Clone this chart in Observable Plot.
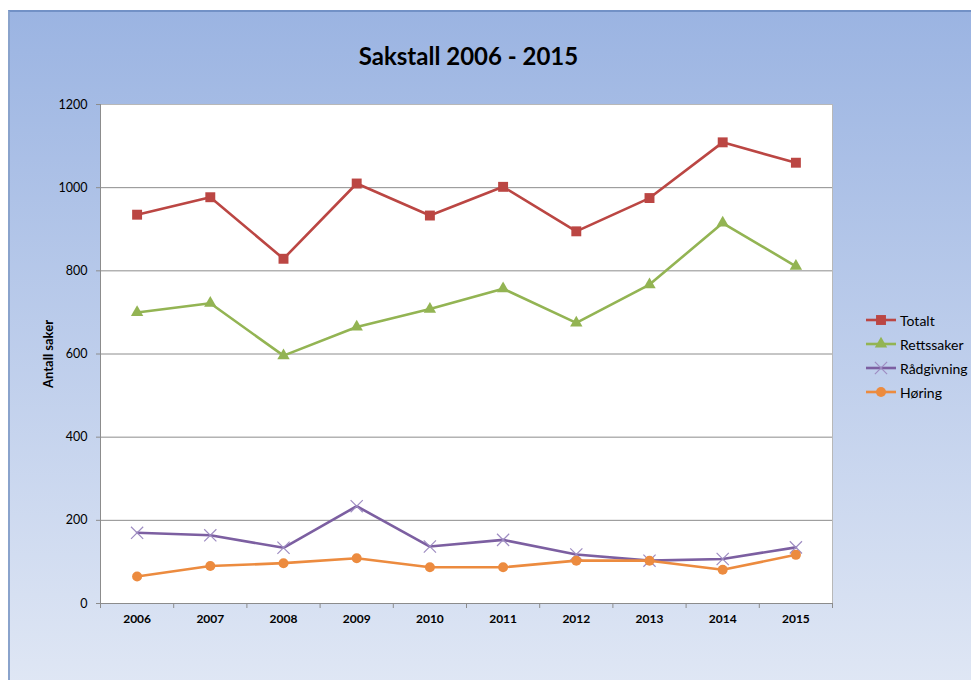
<!DOCTYPE html>
<html><head><meta charset="utf-8">
<script src="https://cdn.jsdelivr.net/npm/d3@7"></script>
<script src="https://cdn.jsdelivr.net/npm/@observablehq/plot@0.6"></script>
<style>
body{margin:0;background:#fff;}
#page{position:relative;width:971px;height:680px;overflow:hidden;background:#fff;font-family:Lato,"Open Sans",sans-serif;}
#frame{position:absolute;left:8px;top:10px;width:980px;height:690px;background:linear-gradient(#9bb4e2,#e1e8f5);border-top:2px solid #7291c6;border-left:2px solid #8aa3cc;}
#title{position:absolute;left:0;width:937px;top:41px;text-align:center;font-size:24px;font-weight:bold;color:#000;}
#chart{position:absolute;left:0;top:0;}
#legend{position:absolute;left:864px;top:308px;font-size:14px;color:#000;}
.item{height:24px;display:flex;align-items:center;}
.item svg{display:block;margin-right:2px;}
</style></head>
<body><div id="page"><div id="frame"></div><div id="title">Sakstall 2006 - 2015</div><div id="chart"></div><div id="legend"></div></div>
<script>
const years=[2006,2007,2008,2009,2010,2011,2012,2013,2014,2015];
const totalt=[935,977,829,1010,933,1002,895,975,1109,1060];
const rettssaker=[700,722,596,665,708,757,675,767,915,811];
const radgivning=[170,164,134,234,137,153,118,103,107,135];
const horing=[65,90,97,109,87,87,103,103,81,117];
const seriesNames=["Totalt","Rettssaker","Rådgivning","Høring"];
const seriesColors=["#bb4643","#93b453","#7c5fa1","#ec8b3f"];
const seriesSymbols=["square","triangle","times","circle"];
const yTicks=[0,200,400,600,800,1000,1200];
const yGrid=[200,400,600,800,1000];

const seriesValues=[totalt,rettssaker,radgivning,horing];
const rows=[];
seriesNames.forEach((s,i)=>years.forEach((yr,j)=>rows.push({serie:s,year:yr,value:seriesValues[i][j]})));
const boundaries=years.map(y=>y-0.5).concat([years[years.length-1]+0.5]);
const markR={square:5.6,triangle:4.6,times:5.6,circle:5};

const marks=[
  Plot.frame({fill:"#ffffff",stroke:"none"}),
  Plot.ruleY(yGrid,{stroke:"#8c8c8c",strokeWidth:1}),
  Plot.frame({stroke:"#b8b8b8"}),
  Plot.ruleX([boundaries[0]],{stroke:"#8c8c8c"}),
  Plot.ruleY([0],{stroke:"#8c8c8c"}),
  Plot.axisY(yTicks,{anchor:"left",tickSize:4,tickPadding:9,stroke:"#8c8c8c",fontSize:12.5,tickFormat:d=>String(d),label:"Antall saker",labelAnchor:"center",labelArrow:"none",labelOffset:57}),
  Plot.axisX(boundaries,{anchor:"bottom",tickSize:5,tickFormat:()=>"",stroke:"#8c8c8c",label:null}),
  Plot.axisX(years,{anchor:"bottom",tickSize:0,tickPadding:11,tickFormat:d=>String(d),fontSize:12,fontWeight:"bold",label:null})
];
seriesNames.forEach((s,i)=>{
  const d=rows.filter(r=>r.serie===s);
  marks.push(Plot.line(d,{x:"year",y:"value",stroke:seriesColors[i],strokeWidth:2.6}));
  const sym=seriesSymbols[i];
  if(sym==="times"){
    marks.push(Plot.dot(d,{x:"year",y:"value",symbol:"times",r:markR[sym],stroke:"#9e8cc2",strokeWidth:1.2}));
  }else{
    marks.push(Plot.dot(d,{x:"year",y:"value",symbol:sym,r:markR[sym],fill:seriesColors[i],stroke:"none"}));
  }
});

const chart=Plot.plot({
  width:860,height:640,marginLeft:100,marginRight:28,marginTop:104,marginBottom:37,
  style:{background:"transparent",fontFamily:"Lato, 'Open Sans', sans-serif",color:"#000",overflow:"visible"},
  x:{type:"linear",domain:[boundaries[0],boundaries[boundaries.length-1]],axis:null},
  y:{domain:[0,1200],axis:null},
  marks
});
chart.querySelectorAll("[aria-label='y-axis label']").forEach(g=>{g.setAttribute("font-weight","bold");g.setAttribute("font-size","13");});
chart.querySelectorAll("[aria-label='y-axis label'] text").forEach(t=>{t.setAttribute("font-weight","bold");t.setAttribute("font-size","13");});
document.getElementById("chart").appendChild(chart);

const leg=document.getElementById("legend");
const symMap={square:d3.symbolSquare,triangle:d3.symbolTriangle,times:d3.symbolTimes,circle:d3.symbolCircle};
seriesNames.forEach((s,i)=>{
  const sym=seriesSymbols[i];
  const r=markR[sym];
  const path=d3.symbol(symMap[sym],Math.PI*r*r)();
  const item=document.createElement("div");item.className="item";
  const mk=sym==="times"?`<path d="${path}" transform="translate(17,11)" fill="none" stroke="#9e8cc2" stroke-width="1.2"/>`:`<path d="${path}" transform="translate(17,11)" fill="${seriesColors[i]}"/>`;
  item.innerHTML=`<svg width="34" height="22"><line x1="2" x2="32" y1="11" y2="11" stroke="${seriesColors[i]}" stroke-width="2.6"/>${mk}</svg><span>${s}</span>`;
  leg.appendChild(item);
});
</script>
</body></html>
